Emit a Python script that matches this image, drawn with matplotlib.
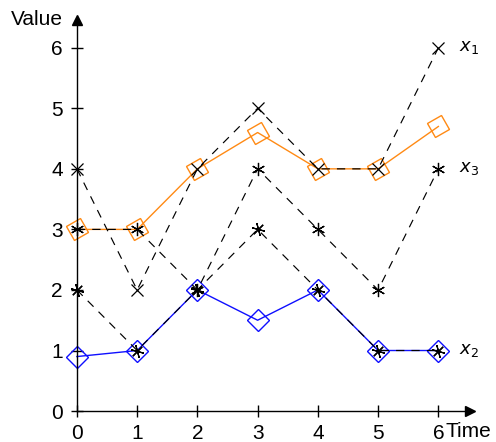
import numpy as np
import matplotlib
matplotlib.use('Agg')
import matplotlib.pyplot as plt
from matplotlib.markers import MarkerStyle
from matplotlib.transforms import Affine2D

plt.rcParams['font.family'] = ['Liberation Sans', 'DejaVu Sans']

time = [0, 1, 2, 3, 4, 5, 6]
x1 = [4, 2, 4, 5, 4, 4, 6]
x2 = [2, 1, 2, 3, 2, 1, 1]
x3 = [3, 3, 2, 4, 3, 2, 4]
orange_vals = [3, 3, 4, 4.6, 4, 4, 4.7]
blue_vals = [0.9, 1, 2, 1.5, 2, 1, 1]
series_labels = ['$x_1$', '$x_2$', '$x_3$']
ticks = [0, 1, 2, 3, 4, 5, 6]

fig = plt.figure(figsize=(4.96, 4.42), dpi=100)
ax = fig.add_axes([0.155, 0.070, 0.792, 0.885])

dash = (0, (7, 6))
sq = MarkerStyle('s', transform=Affine2D().rotate_deg(30))

ax.plot(time, orange_vals, color='#ff8a14', lw=1, marker=sq, ms=11.5,
        mfc='none', mec='#ff8a14', mew=1, clip_on=False, zorder=2)
ax.plot(time, blue_vals, color='#0f0fff', lw=1, marker='D', ms=11,
        mfc='none', mec='#0f0fff', mew=1, clip_on=False, zorder=2)

ax.plot(time, x1, color='k', lw=0.85, ls=dash, marker='x', ms=8, mew=0.9,
        clip_on=False, zorder=3)
ax.plot(time, x2, color='k', lw=0.85, ls=dash, marker=(6, 2, 15), ms=9.5,
        mew=0.9, clip_on=False, zorder=3)
ax.plot(time, x3, color='k', lw=0.85, ls=dash, marker=(6, 2, 0), ms=9.5,
        mew=0.9, clip_on=False, zorder=3)

for lab, vals in zip(series_labels, [x1, x2, x3]):
    ax.text(6.35, vals[-1], lab, fontsize=13, va='center', ha='left')

ax.set_xlim(0, 6.52)
ax.set_ylim(0, 6.46)
ax.set_xticks(ticks)
ax.set_yticks(ticks)
ax.tick_params(direction='inout', length=8, width=1, labelsize=15)
ax.tick_params(axis='x', pad=5)
ax.tick_params(axis='y', pad=6)

for s in ['top', 'right']:
    ax.spines[s].set_visible(False)
for s in ['left', 'bottom']:
    ax.spines[s].set_linewidth(1)

# arrow heads
ax.plot(1, 0, '>k', ms=7, transform=ax.transAxes, clip_on=False)
ax.plot(0, 1, '^k', ms=7, transform=ax.transAxes, clip_on=False)

ax.text(-0.035, 1.0, 'Value', fontsize=15, ha='right', va='center',
        transform=ax.transAxes)
ax.text(6.12, -0.33, 'Time', fontsize=15, ha='left', va='center')

fig.savefig('out.png', dpi=100)
